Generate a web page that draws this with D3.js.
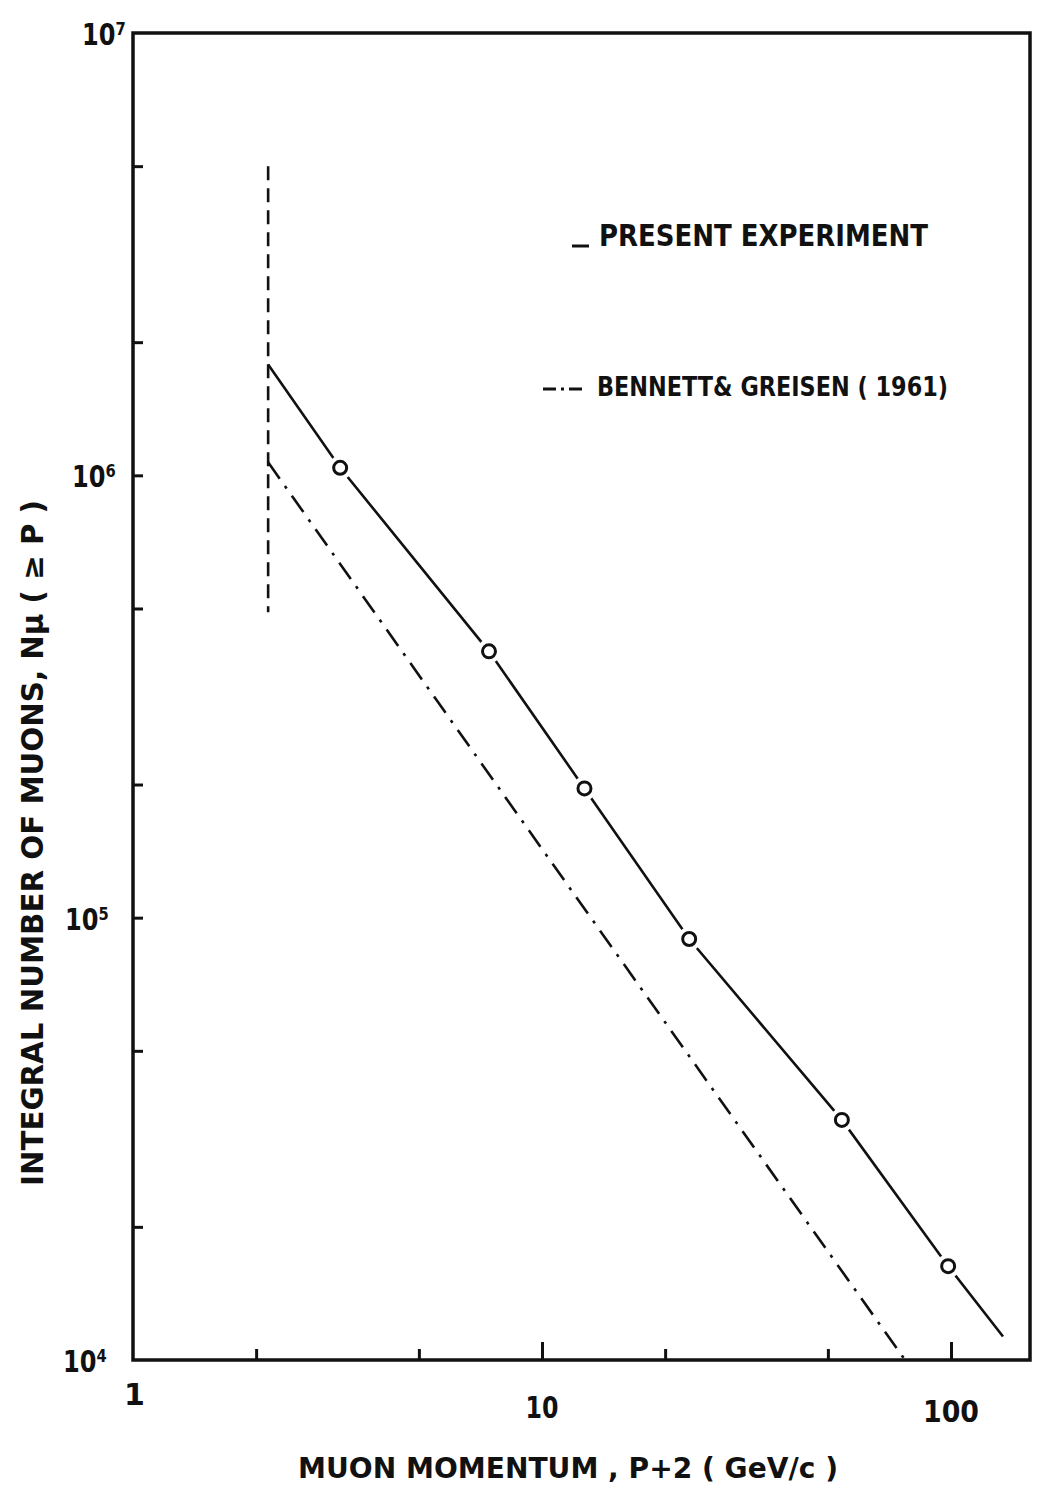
<!DOCTYPE html>
<html>
<head>
<meta charset="utf-8">
<script src="https://cdn.jsdelivr.net/npm/d3@7"></script>
<style>
  body { margin: 0; background: #fff; }
  text { font-family: "DejaVu Sans", sans-serif; font-weight: bold; fill: #111; }
</style>
</head>
<body>
<svg id="chart"></svg>
<script>
const width = 1038;
const height = 1487;

// present experiment points (P+2 in GeV/c, integral count)
const presentPoints = [
  [3.21, 1.04e6],
  [7.42, 4.0e5],
  [12.7, 1.96e5],
  [22.9, 8.95e4],
  [54.1, 3.49e4],
  [98.4, 1.63e4],
];
// fitted line for present experiment
const presentLine = [
  [2.14, 1.78e6],
  [3.21, 1.04e6],
  [7.42, 4.0e5],
  [12.7, 1.96e5],
  [22.9, 8.95e4],
  [54.1, 3.49e4],
  [98.4, 1.63e4],
  [134, 1.13e4],
];
const bennettLine = [
  [2.14, 1.07e6],
  [10, 1.43e5],
  [77.2, 1.0e4],
];
const cutoffLine = [
  [2.14, 5.0e6],
  [2.14, 4.9e5],
];

const xMajorTicks = [10, 100];
const xMinorTicks = [2, 5, 20, 50];
const xTickLabels = [
  { v: 1, t: "1" },
  { v: 10, t: "10" },
  { v: 100, t: "100" },
];
const yTicks = [2e4, 5e4, 1e5, 2e5, 5e5, 1e6, 2e6, 5e6];
const yTickLabels = [
  { v: 1e7, t: "10⁷" },
  { v: 1e6, t: "10⁶" },
  { v: 1e5, t: "10⁵" },
  { v: 1e4, t: "10⁴" },
];

const plotLeft = 133, plotRight = 1030, plotTop = 33, plotBottom = 1360;

const svg = d3.select("#chart").attr("width", width).attr("height", height);

const x = d3.scaleLog().domain([1, 156]).range([plotLeft, plotRight]);
const y = d3.scaleLog().domain([1e4, 1e7]).range([plotBottom, plotTop]);

// frame
svg.append("rect")
  .attr("x", plotLeft).attr("y", plotTop)
  .attr("width", plotRight - plotLeft).attr("height", plotBottom - plotTop)
  .attr("fill", "none").attr("stroke", "#111").attr("stroke-width", 3.5);

// x ticks (inward)
const xMaj = svg.append("g").attr("transform", `translate(0,${plotBottom})`)
  .call(d3.axisTop(x).tickValues(xMajorTicks).tickSize(18).tickFormat(""));
const xMin = svg.append("g").attr("transform", `translate(0,${plotBottom})`)
  .call(d3.axisTop(x).tickValues(xMinorTicks).tickSize(11).tickFormat(""));
// y ticks (inward)
const yAx = svg.append("g").attr("transform", `translate(${plotLeft},0)`)
  .call(d3.axisRight(y).tickValues(yTicks).tickSize(10).tickFormat(""));

[xMaj, xMin, yAx].forEach((g) => {
  g.select(".domain").remove();
  g.selectAll(".tick line").attr("stroke", "#111").attr("stroke-width", 3);
});

// x tick labels
const xLabelY = { 1: 1405, 10: 1418, 100: 1422 };
const xLabelW = { 1: 6, 10: 33, 100: 56 };
svg.selectAll(".xlab")
  .data(xTickLabels)
  .enter()
  .append("text")
  .attr("class", "xlab")
  .attr("x", (d) => x(d.v) - xLabelW[d.v] / 2 + (d.v === 1 ? -6 : 0))
  .attr("y", (d) => xLabelY[d.v])
  .attr("font-size", 30)
  .attr("textLength", (d) => (d.v === 1 ? null : xLabelW[d.v]))
  .attr("lengthAdjust", "spacingAndGlyphs")
  .text((d) => d.t);

// y tick labels (power of ten with superscript exponent)
const yLabelX = [82, 72, 65, 63];
svg.selectAll(".ylab")
  .data(yTickLabels)
  .enter()
  .append("text")
  .attr("class", "ylab")
  .attr("x", (d, i) => yLabelX[i])
  .attr("y", (d) => y(d.v) + 12)
  .attr("font-size", 31)
  .attr("textLength", 44).attr("lengthAdjust", "spacingAndGlyphs")
  .text((d) => d.t);

const line = d3.line().x((d) => x(d[0])).y((d) => y(d[1]));

// vertical cutoff dashed line
svg.append("path")
  .attr("d", line(cutoffLine))
  .attr("fill", "none").attr("stroke", "#111").attr("stroke-width", 2.6)
  .attr("stroke-dasharray", "14,8");

// Bennett & Greisen dash-dot
svg.append("path")
  .attr("d", line(bennettLine))
  .attr("fill", "none").attr("stroke", "#111").attr("stroke-width", 2.6)
  .attr("stroke-dasharray", "20,9,3,9");

// present experiment line
svg.append("path")
  .attr("d", line(presentLine))
  .attr("fill", "none").attr("stroke", "#111").attr("stroke-width", 2.6);

// circles with white halo to break the line
svg.selectAll(".halo")
  .data(presentPoints)
  .enter()
  .append("circle")
  .attr("class", "halo")
  .attr("cx", (d) => x(d[0])).attr("cy", (d) => y(d[1]))
  .attr("r", 12).attr("fill", "#fff");
svg.selectAll(".pt")
  .data(presentPoints)
  .enter()
  .append("circle")
  .attr("class", "pt")
  .attr("cx", (d) => x(d[0])).attr("cy", (d) => y(d[1]))
  .attr("r", 6.5).attr("fill", "#fff")
  .attr("stroke", "#111").attr("stroke-width", 3);

// legend
svg.append("line")
  .attr("x1", 572).attr("x2", 589).attr("y1", 246).attr("y2", 246)
  .attr("stroke", "#111").attr("stroke-width", 3);
svg.append("text")
  .attr("x", 599).attr("y", 246)
  .attr("font-size", 30)
  .attr("textLength", 329).attr("lengthAdjust", "spacingAndGlyphs")
  .text("PRESENT EXPERIMENT");

svg.append("line")
  .attr("x1", 543).attr("x2", 594).attr("y1", 389).attr("y2", 389)
  .attr("stroke", "#111").attr("stroke-width", 3)
  .attr("stroke-dasharray", "13,5,3,5,13");
svg.append("text")
  .attr("x", 597).attr("y", 396)
  .attr("font-size", 27)
  .attr("textLength", 351).attr("lengthAdjust", "spacingAndGlyphs")
  .text("BENNETT& GREISEN ( 1961)");

// axis titles
svg.append("text")
  .attr("x", 298).attr("y", 1478)
  .attr("font-size", 28)
  .attr("textLength", 540).attr("lengthAdjust", "spacingAndGlyphs")
  .text("MUON MOMENTUM , P+2  ( GeV/c )");

svg.append("text")
  .attr("transform", "translate(43,1186) rotate(-90)")
  .attr("font-size", 30)
  .attr("textLength", 686).attr("lengthAdjust", "spacingAndGlyphs")
  .text("INTEGRAL NUMBER OF MUONS, Nμ ( ≥ P )");
</script>
</body>
</html>
